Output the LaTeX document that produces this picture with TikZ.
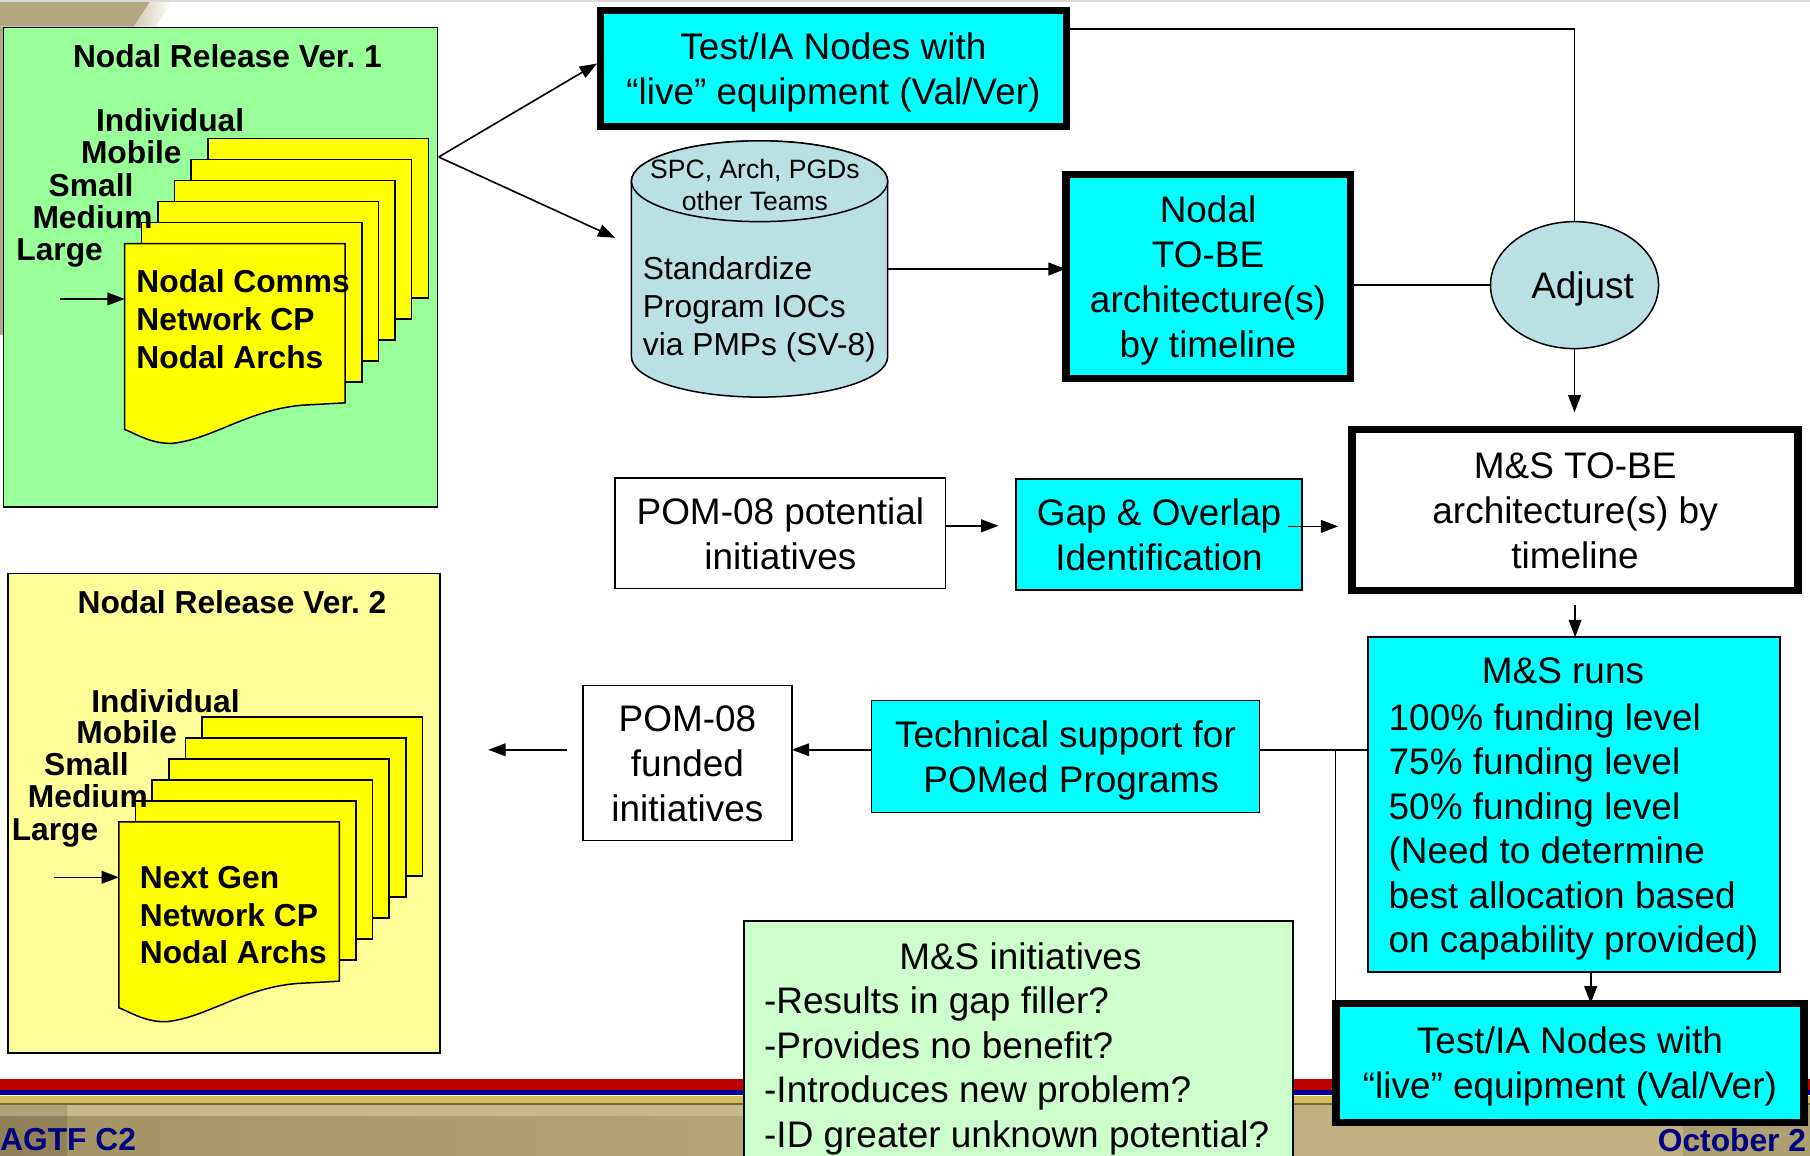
\documentclass[tikz,border=0pt]{standalone}
\usepackage{fontspec}
\setmainfont{Liberation Sans}
\usetikzlibrary{arrows.meta,shapes.geometric}
\definecolor{grn}{RGB}{153,255,153}
\definecolor{lyel}{RGB}{255,255,153}
\definecolor{yel}{RGB}{255,255,0}
\definecolor{mycyan}{RGB}{0,255,255}
\definecolor{bgrey}{RGB}{187,224,227}
\definecolor{lgrn}{RGB}{204,255,204}
\definecolor{navy}{RGB}{0,0,128}
\definecolor{fred}{RGB}{192,0,0}
\definecolor{fblue}{RGB}{0,0,150}
\definecolor{fgold}{RGB}{212,190,90}
\definecolor{ftan}{RGB}{192,178,128}
\definecolor{ftandark}{RGB}{163,146,100}
\definecolor{swoosh}{RGB}{180,168,130}
% struts that fix the first-line height and last-line depth
\newcommand{\Hs}{\rule{0pt}{30.4pt}}
\newcommand{\Ds}{\rule[-7.5pt]{0pt}{0pt}}
\newcommand{\Hb}{\rule{0pt}{26.1pt}}
\newcommand{\Db}{\rule[-6.4pt]{0pt}{0pt}}
\tikzset{
  base/.style={inner sep=0pt, outer sep=0pt, font=\fontsize{32}{39}\selectfont, align=center},
  thinbox/.style={base, draw, line width=1.3pt},
  thickbox/.style={base, draw, line width=6.5pt},
  conn/.style={line width=1.4pt},
  arr/.style={conn, -{Triangle[length=15pt,width=11pt]}},
  lbl/.style={inner sep=0pt, anchor=west, font=\bfseries\fontsize{27.5}{28}\selectfont},
  inner/.style={inner sep=0pt, anchor=west, align=left, font=\bfseries\fontsize{27.5}{33}\selectfont},
  titletext/.style={inner sep=0pt, font=\bfseries\fontsize{27.5}{28}\selectfont},
  pagebox/.style={draw, fill=yel, line width=1.3pt},
  foottext/.style={inner sep=0pt, anchor=west, text=navy, font=\bfseries\fontsize{27.5}{28}\selectfont},
}
\begin{document}
\begin{tikzpicture}[x=1pt,y=-1pt]
\useasboundingbox (0,0) rectangle (1568,1001);
\clip (0,0) rectangle (1568,1001);
\fill[white] (0,0) rectangle (1568,1001);
% top decoration
\fill[swoosh] (0,0) -- (131,0) -- (116,23) -- (0,23) -- cycle;
\shade[left color=swoosh!60!white, right color=white] (116,23) -- (131,0) -- (150,0) -- (135,23) -- cycle;
\fill[swoosh] (0,23) rectangle (4,290);
\fill[black!15] (0,0) rectangle (1568,2);
% footer
\fill[fred] (0,934.5) rectangle (1568,944.5);
\fill[fblue] (0,944.5) rectangle (1568,948.5);
\fill[fgold] (0,949.5) rectangle (1568,955.8);
\fill[black!45!fgold] (0,955.8) rectangle (1568,957.3);
\shade[left color=ftandark, right color=ftan] (0,957.3) rectangle (1100,1001);
\fill[ftan] (1100,957.3) rectangle (1568,1001);
\fill[ftan!90!white] (0,957.3) rectangle (1100,967);
\fill[black, opacity=0.12] (0,957.3) rectangle (58,1001);
\fill[black, opacity=0.10] (1458,957.3) rectangle (1568,1001);
\node[foottext] (agtf) at (0,987) {AGTF C2};
\node[foottext] (oct) at (1436,988) {October 2};

% ---------- Nodal Release Ver. 1 ----------
\node[thinbox, fill=grn, minimum width=376pt, minimum height=415pt] (g1) at (191,231.5) {};
\node[titletext] (t1) at (197,49) {\Hb Nodal Release Ver.~1\Db};
\foreach \k in {5,4,3,2,1} {
  \draw[pagebox] ({108+14.4*\k},{211-18.2*\k}) rectangle ({299+14.4*\k},{349-18.2*\k});
}
\draw[pagebox] (108,211) -- (299,211) -- (299,349) -- (262,351)
  .. controls (215,355) and (185,380) .. (150,384)
  .. controls (132,385) and (118,376) .. (108,372) -- cycle;
\node[lbl] (ind1) at (83,104) {\Hb Individual\Db};
\node[lbl] (mob1) at (70,132) {\Hb Mobile\Db};
\node[lbl] (sma1) at (42,160) {\Hb Small\Db};
\node[lbl] (med1) at (28,188) {\Hb Medium\Db};
\node[lbl] (lar1) at (14,216) {\Hb Large\Db};
\node[inner] (in1) at (118,276.5) {\Hb Nodal Comms\\Network CP\\Nodal Archs\Db};
\coordinate (a1) at (52,259);
\coordinate (p1w) at (108,259);
\draw[arr] (a1) -- (p1w);

% ---------- Nodal Release Ver. 2 ----------
\node[thinbox, fill=lyel, minimum width=374pt, minimum height=415pt] (g2) at (194,704.5) {};
\node[titletext] (t2) at (201,522) {\Hb Nodal Release Ver.~2\Db};
\begin{scope}[shift={(-5,501)}]
\foreach \k in {5,4,3,2,1} {
  \draw[pagebox] ({108+14.4*\k},{211-18.2*\k}) rectangle ({299+14.4*\k},{349-18.2*\k});
}
\draw[pagebox] (108,211) -- (299,211) -- (299,349) -- (262,351)
  .. controls (215,355) and (185,380) .. (150,384)
  .. controls (132,385) and (118,376) .. (108,372) -- cycle;
\end{scope}
\node[lbl] (ind2) at (79,607) {\Hb Individual\Db};
\node[lbl] (mob2) at (66,634) {\Hb Mobile\Db};
\node[lbl] (sma2) at (38,662) {\Hb Small\Db};
\node[lbl] (med2) at (24,690) {\Hb Medium\Db};
\node[lbl] (lar2) at (10,718) {\Hb Large\Db};
\node[inner, font=\bfseries\fontsize{27.5}{32.5}\selectfont] (in2) at (121,792.5) {\Hb Next Gen\\Network CP\\Nodal Archs\Db};
\coordinate (a2) at (47,760);
\coordinate (p2w) at (103,760);
\draw[arr] (a2) -- (p2w);

% ---------- top row ----------
\node[thickbox, fill=mycyan, minimum width=403.5pt, minimum height=100.5pt] (tia1) at (722,59.5) {\Hs Test/IA Nodes with\\“live” equipment (Val/Ver)\Ds};

% cylinder
\filldraw[fill=bgrey, line width=1.3pt] (547,157) -- (547,309)
  arc[start angle=180, end angle=360, x radius=111pt, y radius=35pt] -- (769,157)
  arc[start angle=0, end angle=180, x radius=111pt, y radius=35pt] -- cycle;
\filldraw[fill=bgrey, line width=1.3pt] (658,157) ellipse [x radius=111pt, y radius=35pt];
\node[minimum width=222pt, minimum height=222pt, inner sep=0pt, outer sep=0pt] (cyl) at (658,233) {};
\node[base, font=\fontsize{23}{28}\selectfont] (cylt) at (654,160) {\rule{0pt}{21.9pt}SPC, Arch, PGDs\\other Teams\rule[-5.4pt]{0pt}{0pt}};
\node[base, anchor=west, align=left, font=\fontsize{27.5}{33}\selectfont] (cylb) at (557,265) {\Hb Standardize\\Program IOCs\\via PMPs (SV-8)\Db};

\node[thickbox, fill=mycyan, minimum width=246.5pt, minimum height=176.5pt] (ntb) at (1046.5,239.5) {\Hs Nodal\\TO-BE\\architecture(s)\\by timeline\Ds};
\node[base, draw, line width=1.3pt, ellipse, fill=bgrey, minimum width=137pt, minimum height=110pt] (adj) at (1364,247) {\Hs\hspace*{14pt}Adjust\Ds};

% ---------- middle row ----------
\node[thickbox, fill=white, minimum width=386.5pt, minimum height=139.5pt] (mstb) at (1364.5,442) {\Hs M\&S TO-BE\\architecture(s) by\\timeline\Ds};
\node[thinbox, fill=white, minimum width=286.5pt, minimum height=95.5pt] (pomp) at (676,462) {\Hs POM-08 potential\\initiatives\Ds};
\node[thinbox, fill=mycyan, minimum width=248pt, minimum height=96pt] (gap) at (1004,463) {\Hs Gap \& Overlap\\Identification\Ds};

% ---------- lower part ----------
\node[thinbox, fill=mycyan, minimum width=357pt, minimum height=290pt] (msr) at (1363.5,697) {};
\node[base] (msrt) at (1354,581) {\Hs M\&S runs\Ds};
\node[base, anchor=west, align=left, font=\fontsize{32}{38.6}\selectfont] (msrl) at (1203,717.5) {\Hs 100\% funding level\\75\% funding level\\50\% funding level\\(Need to determine\\best allocation based\\on capability provided)\Ds};
\node[thinbox, fill=mycyan, minimum width=336pt, minimum height=97pt] (tsp) at (923,655.5) {\Hs Technical support for\\\hspace*{10pt}POMed Programs\Ds};
\node[thinbox, fill=white, minimum width=181pt, minimum height=134pt] (pomf) at (595.5,661) {\Hs POM-08\\funded\\initiatives\Ds};

\node[thinbox, fill=lgrn, minimum width=475.5pt, minimum height=230pt, anchor=north west] (msi) at (644.5,798) {};
\node[base] (msit) at (884,828) {\Hs M\&S initiatives\Ds};
\node[base, anchor=west, align=left, font=\fontsize{32}{38.5}\selectfont] (msil) at (662,924.5) {\Hs -Results in gap filler?\\-Provides no benefit?\\-Introduces new problem?\\-ID greater unknown potential?\Ds};

\node[thickbox, fill=mycyan, minimum width=405.5pt, minimum height=103pt] (tia2) at (1360,920.8) {\Hs Test/IA Nodes with\\“live” equipment (Val/Ver)\Ds};

% ---------- connectors ----------
\coordinate (fan) at (380,136);
\coordinate (cylin) at (533,206);
\draw[arr] (fan) -- ([shift={(-3pt,4.5pt)}]tia1.west);
\draw[arr] (fan) -- (cylin);
\draw[conn] ([yshift=34.5pt]tia1.east) -| (adj.north);
\draw[arr] (cyl.east) -- (cyl.east -| ntb.west);
\draw[conn] (adj.west) -- (adj.west -| ntb.east);
\draw[arr, shorten >=15pt] (adj.south) -- (adj.south |- mstb.north);
\draw[arr, shorten >=15pt] ([yshift=6.5pt]pomp.east) -- ([yshift=6.5pt]pomp.east -| gap.west);
\draw[arr] ([shift={(-12pt,7pt)}]gap.east) -- ([shift={(-12pt,7pt)}]gap.east -| mstb.west);
\draw[arr, shorten <=12pt] (mstb.south) -- (mstb.south |- msr.north);
\draw[arr] ([xshift=14.5pt]msr.south) -- ([xshift=14.5pt]msr.south |- tia2.north);
\coordinate (j) at (1157,649.5);
\draw[conn] (msr.west |- j) -- (tsp.east |- j);
\draw[conn] (j) -- (j |- tia2.north);
\draw[arr] (tsp.west |- j) -- (pomf.east |- j);
\draw[arr, shorten <=14pt, shorten >=42pt] (pomf.west |- j) -- (g2.east |- j);
\end{tikzpicture}
\end{document}
